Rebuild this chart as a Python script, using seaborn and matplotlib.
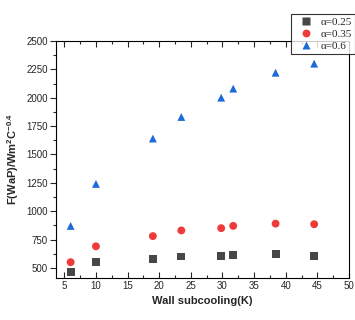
import pandas as pd
import matplotlib.pyplot as plt
import seaborn as sns
from matplotlib.ticker import AutoMinorLocator

# Dados
subcooling = [6, 10, 19, 23.5, 29.8, 31.7, 38.4, 44.5]
f_a025 = [460, 550, 580, 600, 605, 615, 620, 605]
f_a035 = [550, 690, 780, 830, 850, 870, 890, 885]
f_a06 = [870, 1240, 1640, 1830, 2000, 2080, 2220, 2300]

df = pd.DataFrame({
    'x': subcooling * 3,
    'F': f_a025 + f_a035 + f_a06,
    'alpha': ['α=0.25'] * 8 + ['α=0.35'] * 8 + ['α=0.6'] * 8,
})

sns.set_style("ticks")
plt.rcParams['font.family'] = ['Liberation Sans', 'DejaVu Sans']
plt.rcParams['mathtext.fontset'] = 'custom'
plt.rcParams['mathtext.rm'] = 'Liberation Sans'
plt.rcParams['mathtext.bf'] = 'Liberation Sans:bold'

fig = plt.figure(figsize=(3.55, 3.2), dpi=100)
ax = fig.add_axes([0.158, 0.131, 0.825, 0.741])

sns.scatterplot(data=df, x='x', y='F', hue='alpha', style='alpha',
                markers={'α=0.25': 's', 'α=0.35': 'o', 'α=0.6': '^'},
                palette={'α=0.25': '#474747', 'α=0.35': '#ef3a3a', 'α=0.6': '#1c6ad8'},
                s=32, edgecolor='none', ax=ax)

ax.set_xlim(3.7, 50)
ax.set_ylim(410, 2500)
ax.set_xticks(range(5, 51, 5))
ax.set_yticks(range(500, 2501, 250))
ax.xaxis.set_minor_locator(AutoMinorLocator(2))
ax.yaxis.set_minor_locator(AutoMinorLocator(2))
ax.tick_params(labelsize=7, pad=2)
ax.tick_params(axis='x', which='both', direction='in', top=True)
ax.tick_params(axis='y', which='both', direction='out')
ax.tick_params(which='major', length=4, width=0.8)
ax.tick_params(which='minor', length=2, width=0.8)
for s in ax.spines.values():
    s.set_visible(True)
    s.set_linewidth(0.8)
    s.set_color('black')

ax.set_xlabel('Wall subcooling(K)', fontsize=8, fontweight='bold', labelpad=4)
ax.set_ylabel(r'F(WaP)/Wm$^\mathbf{2}$C$^\mathbf{-0.4}$', fontsize=8, fontweight='bold', labelpad=4)

leg = ax.legend(loc='upper left', bbox_to_anchor=(0.805, 0.975),
                bbox_transform=fig.transFigure, frameon=True, fancybox=False,
                edgecolor='black', handletextpad=0.3,
                borderpad=0.3, labelspacing=0.2,
                prop={'family': 'Liberation Serif', 'size': 8})
leg.get_frame().set_linewidth(0.8)

fig.savefig('out.png', dpi=100)
